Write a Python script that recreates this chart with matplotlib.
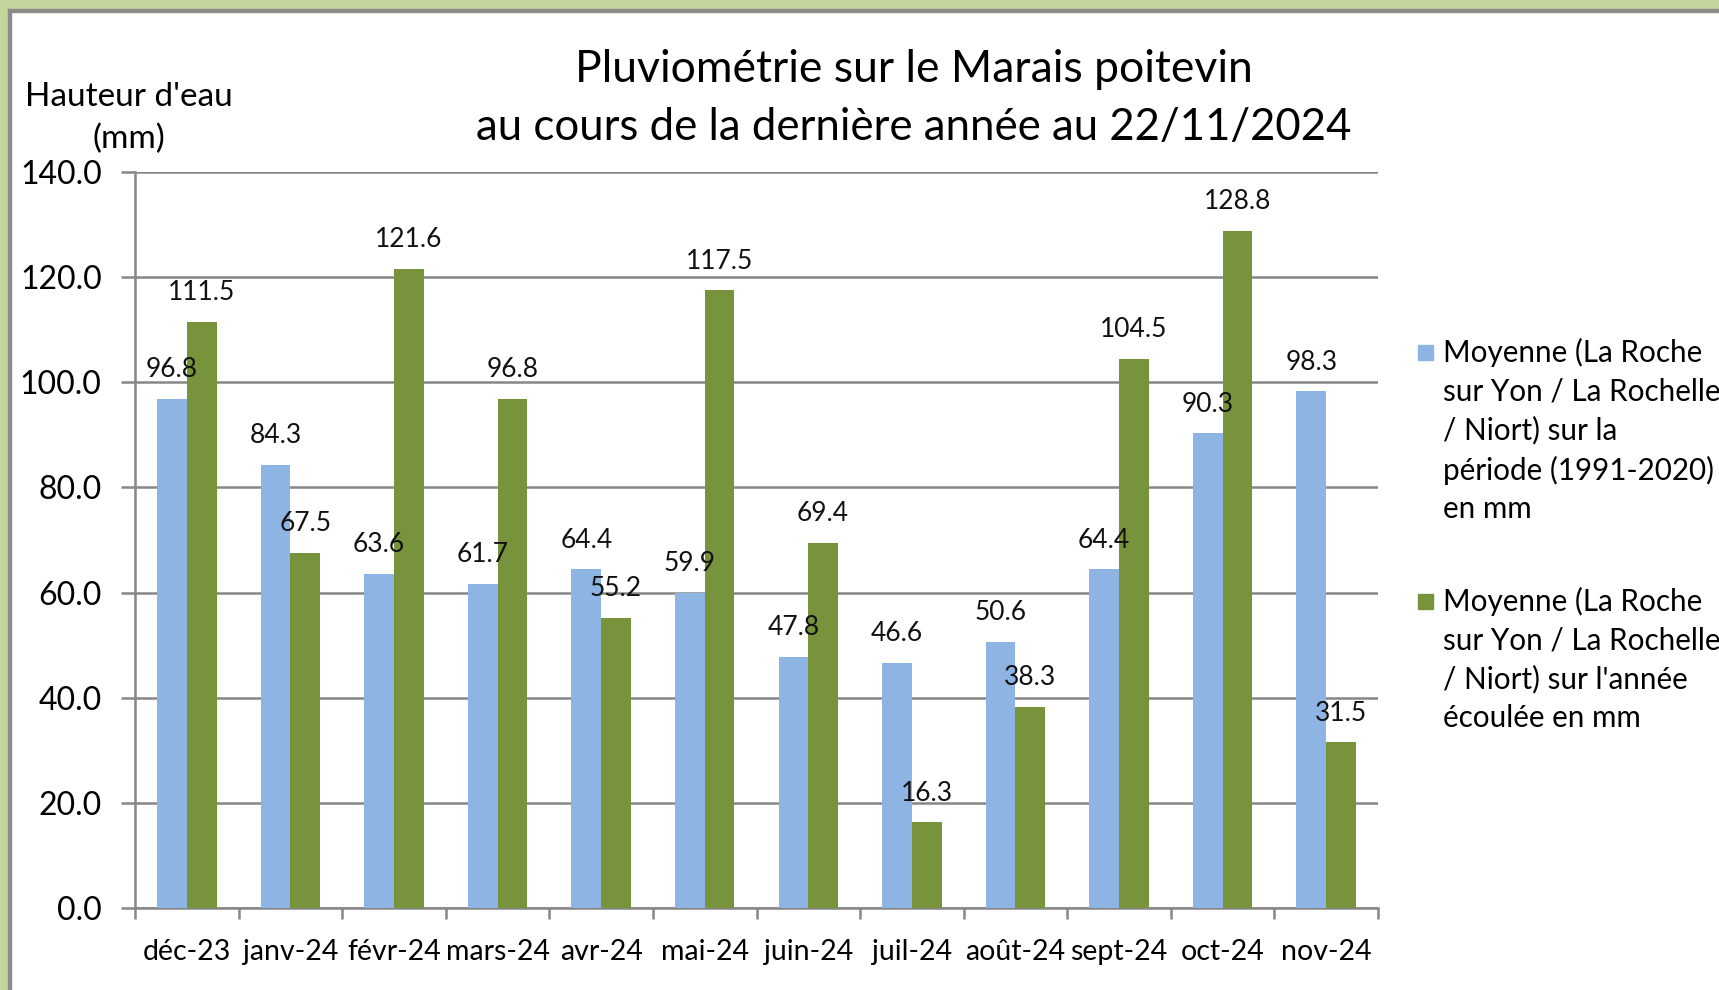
import numpy as np
import matplotlib
matplotlib.use("Agg")
import matplotlib.pyplot as plt
from matplotlib.patches import Rectangle

plt.rcParams['font.family'] = ['Lato', 'DejaVu Sans']

# data
months = ["déc-23", "janv-24", "févr-24", "mars-24", "avr-24", "mai-24",
          "juin-24", "juil-24", "août-24", "sept-24", "oct-24", "nov-24"]
normale = [96.8, 84.3, 63.6, 61.7, 64.4, 59.9, 47.8, 46.6, 50.6, 64.4, 90.3, 98.3]
annee = [111.5, 67.5, 121.6, 96.8, 55.2, 117.5, 69.4, 16.3, 38.3, 104.5, 128.8, 31.5]
legend_labels = [
    "Moyenne (La Roche\nsur Yon / La Rochelle\n/ Niort) sur la\npériode (1991-2020)\nen mm",
    "Moyenne (La Roche\nsur Yon / La Rochelle\n/ Niort) sur l'année\nécoulée en mm",
]

blue = "#8EB4E3"
green = "#77933C"
grey = "#878787"

W, H = 1719, 990
fig = plt.figure(figsize=(W / 100, H / 100), dpi=100)
fig.patch.set_facecolor("white")

# outer frame (green band + grey line, top and left only)
fig.patches.append(Rectangle((0, 1 - 9 / H), 1, 9 / H, transform=fig.transFigure,
                             color="#C4D69B", zorder=0))
fig.patches.append(Rectangle((0, 0), 8 / W, 1, transform=fig.transFigure,
                             color="#C4D69B", zorder=0))
fig.patches.append(Rectangle((8 / W, 1 - 12 / H), 1, 3 / H, transform=fig.transFigure,
                             color="#8C8C8C", zorder=1))
fig.patches.append(Rectangle((8 / W, 0), 3 / W, 1 - 9 / H, transform=fig.transFigure,
                             color="#8C8C8C", zorder=1))

ax = fig.add_axes([135 / W, 1 - 908 / H, (1378 - 135) / W, (908 - 172) / H])

x = np.arange(len(months))
bw = 0.287
b1 = ax.bar(x - bw / 2, normale, bw, color=blue, zorder=3)
b2 = ax.bar(x + bw / 2, annee, bw, color=green, zorder=3)

for bars, vals in ((b1, normale), (b2, annee)):
    for r, v in zip(bars, vals):
        ax.annotate(f"{v:.1f}", (r.get_x() + r.get_width() / 2, v),
                    xytext=(0, 21), textcoords="offset points",
                    ha="center", va="center", fontsize=19, color="#111111", zorder=4)

ax.set_xlim(-0.5, len(months) - 0.5)
ax.set_ylim(0, 140)
ax.set_yticks(np.arange(0, 141, 20))
ax.set_yticklabels([f"{v:.1f}" for v in np.arange(0, 141, 20)])
ax.yaxis.grid(True, color=grey, linewidth=1.8, zorder=0)
ax.set_axisbelow(True)

ax.set_xticks(np.arange(-0.5, len(months), 1))
ax.set_xticklabels([])
ax.set_xticks(x, minor=True)
ax.set_xticklabels(months, minor=True)
ax.tick_params(axis="x", which="minor", length=0, pad=22, labelsize=20.5)
ax.tick_params(axis="x", which="major", length=8, width=1.8, color=grey, direction="out")
ax.tick_params(axis="y", length=10, width=1.8, color=grey, pad=14, labelsize=23)

for s in ("top", "right"):
    ax.spines[s].set_visible(False)
for s in ("left", "bottom"):
    ax.spines[s].set_color(grey)
    ax.spines[s].set_linewidth(1.8)

fig.text(914 / W, 1 - 69 / H, "Pluviométrie sur le Marais poitevin",
         ha="center", va="center", fontsize=32)
fig.text(914 / W, 1 - 127 / H, "au cours de la dernière année au 22/11/2024",
         ha="center", va="center", fontsize=31.5)
fig.text(129 / W, 1 - 118 / H, "Hauteur d'eau\n(mm)", ha="center", va="center",
         fontsize=24, linespacing=1.45)

# legend drawn by hand to follow the original layout
for label, col, ytop in zip(legend_labels, (blue, green), (353, 602)):
    fig.patches.append(Rectangle((1418 / W, 1 - (ytop + 7) / H), 15 / W, 15 / H,
                                 transform=fig.transFigure, color=col))
    fig.text(1443 / W, 1 - (ytop - 15) / H, label, ha="left", va="top",
             fontsize=21.3, linespacing=1.45)

fig.savefig("out.png", dpi=100)
